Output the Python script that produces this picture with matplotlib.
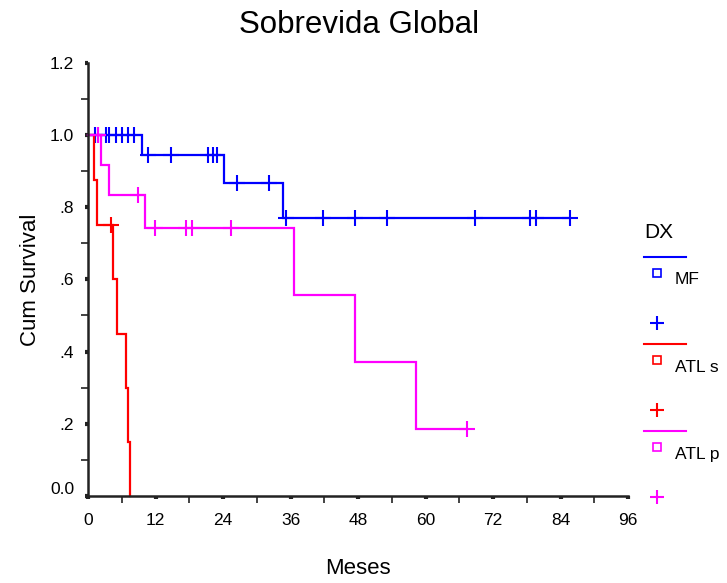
import numpy as np
import matplotlib
matplotlib.use("Agg")
import matplotlib.pyplot as plt
import matplotlib.transforms as mtransforms
from matplotlib.lines import Line2D

plt.rcParams['font.family'] = ['Liberation Sans', 'DejaVu Sans']

# ---- data (Kaplan-Meier steps) ----
groups = ["MF", "ATL s", "ATL p"]
colors = ["#0000ff", "#ff0000", "#ff00ff"]

mf_times = [0, 9.6, 24.1, 34.6, 85.7]
mf_surv = [1.0, 0.944, 0.866, 0.770, 0.770]
mf_cens = [1.2, 1.8, 3.2, 3.8, 4.9, 6.0, 7.1, 8.1, 10.7, 14.7, 21.3, 22.2, 23.0,
           26.4, 32.2, 35.2, 41.8, 47.5, 53.1, 68.8, 78.6, 79.6, 85.7]

atls_times = [0, 1.07, 1.66, 4.5, 5.1, 6.8, 7.1, 7.5]
atls_surv = [1.0, 0.875, 0.75, 0.60, 0.45, 0.30, 0.15, 0.0]
atls_cens = [4.0]

atlp_times = [0, 2.25, 3.67, 10.2, 36.6, 47.5, 58.3, 67.4]
atlp_surv = [1.0, 0.917, 0.833, 0.741, 0.556, 0.370, 0.185, 0.185]
atlp_cens = [1.8, 8.8, 11.9, 17.4, 18.4, 25.5, 67.4]

xticks = [0, 12, 24, 36, 48, 60, 72, 84, 96]
yticks = [0.0, 0.2, 0.4, 0.6, 0.8, 1.0, 1.2]
ytick_labels = ["0.0", ".2", ".4", ".6", ".8", "1.0", "1.2"]

series = [(mf_times, mf_surv, mf_cens),
          (atls_times, atls_surv, atls_cens),
          (atlp_times, atlp_surv, atlp_cens)]

W, H = 727, 583
fig = plt.figure(figsize=(W / 100, H / 100), dpi=100)
L, R, T, B = 88, 628, 62.7, 496
ax = fig.add_axes([L / W, (H - B) / H, (R - L) / W, (B - T) / H])

for (t, s, c), col in zip(series, colors):
    ax.step(t, s, where='post', color=col, lw=1.6, solid_joinstyle='miter', clip_on=False)
    t_arr = np.asarray(t)
    s_arr = np.asarray(s)
    idx = np.searchsorted(t_arr, np.asarray(c), side='right') - 1
    ax.plot(c, s_arr[idx], linestyle='none', marker='+', markersize=11,
            mew=1.5, color=col, clip_on=False)

ax.set_xlim(0, 96)
ax.set_ylim(0, 1.2)
ax.set_xticks(xticks)
ax.set_xticks(np.arange(6, 96, 12), minor=True)
ax.set_yticks(yticks)
ax.set_yticklabels(ytick_labels)
ax.set_yticks(np.arange(0.1, 1.2, 0.2), minor=True)
for sp in ['top', 'right']:
    ax.spines[sp].set_visible(False)
for sp in ['left', 'bottom']:
    ax.spines[sp].set_linewidth(1.8)
    ax.spines[sp].set_color('#222222')
ax.tick_params(which='major', length=2, width=3, color='#222222', labelsize=12.5, pad=8)
ax.tick_params(which='minor', length=5, width=1.2, color='#222222')
ax.tick_params(axis='x', which='major', pad=10)

# the "0.0" label sits slightly above its tick in the reference
lbl0 = ax.get_yticklabels()[0]
lbl0.set_transform(lbl0.get_transform() +
                   mtransforms.ScaledTranslation(0, 8 / 100, fig.dpi_scale_trans))

fig.text(359 / W, 1 - 25 / H, "Sobrevida Global", ha='center', va='center', fontsize=22.5)
fig.text(30 / W, 1 - 280 / H, "Cum Survival", ha='center', va='center', rotation=90, fontsize=16)
fig.text(358 / W, 1 - 568 / H, "Meses", ha='center', va='center', fontsize=16)

# legend
fig.text(644 / W, 1 - 232 / H, "DX", ha='left', va='center', fontsize=15)
line_y = [257, 344, 431]
for g, col, ly in zip(groups, colors, line_y):
    fig.add_artist(Line2D([644 / W, 686 / W], [1 - ly / H, 1 - ly / H], color=col, lw=1.5))
    fig.add_artist(Line2D([657 / W], [1 - (ly + 16) / H], marker='s', markersize=5.5,
                          markerfacecolor='white', markeredgecolor=col, mew=1.2, linestyle='none'))
    fig.text(675 / W, 1 - (ly + 23) / H, g, ha='left', va='center', fontsize=12.5)
    fig.add_artist(Line2D([657 / W], [1 - (ly + 66) / H], marker='+', markersize=10,
                          color=col, mew=1.5, linestyle='none'))

fig.savefig("out.png", dpi=100)
